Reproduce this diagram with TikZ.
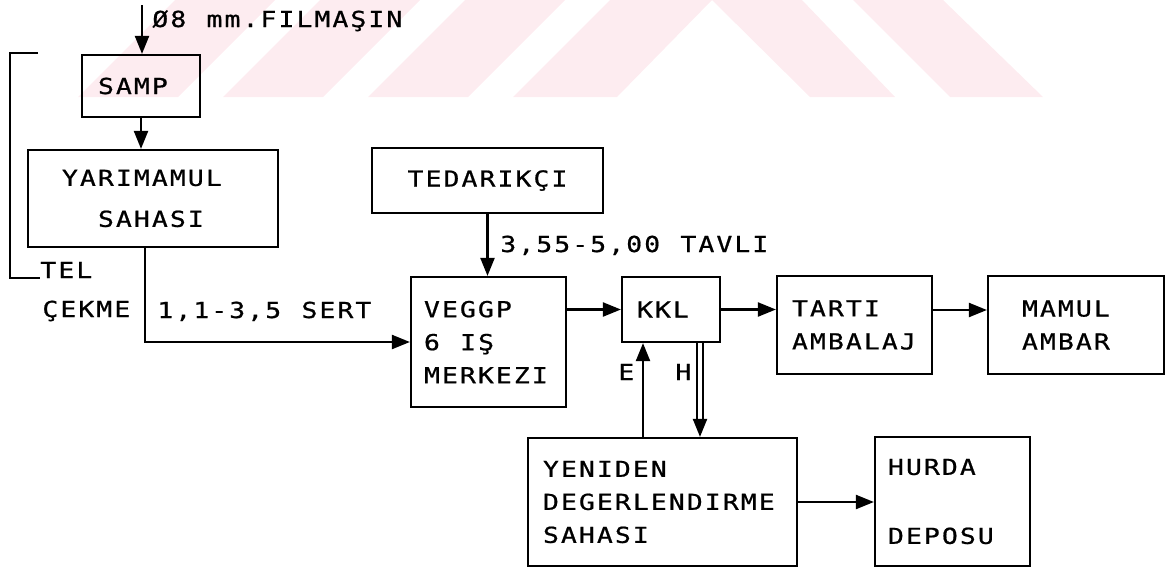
\documentclass[tikz,border=0pt]{standalone}
\usepackage{fontspec}
\newfontfamily\matbaa[FakeStretch=1.2, FakeBold=0.8, LetterSpace=9.5, WordSpace={1.13,0,0}]{DejaVu Sans Mono}
\usetikzlibrary{arrows.meta}
\definecolor{filigran}{RGB}{253,236,240}

\begin{document}
\begin{tikzpicture}[
    x=0.5pt,
    y=-0.5pt,
    >={Triangle[length=9pt,width=7pt]},
    every node/.style={font=\matbaa\fontsize{11}{16.5}\selectfont},
    kutu/.style={draw, line width=1.1pt, inner ysep=0pt, align=flush left},
    etiket/.style={anchor=base west, inner sep=0pt},
    hat/.style={line width=1.1pt},
    ok/.style={hat, ->}
]

\useasboundingbox (0,0) rectangle (1168,568);

% ============================================================
% Filigran (arka plan)
% ============================================================

% sol egik seritler
\fill[filigran] (78,97) -- (178,97) -- (275,0) -- (175,0) -- cycle;
\fill[filigran] (223,97) -- (323,97) -- (420,0) -- (320,0) -- cycle;
\fill[filigran] (368,97) -- (468,97) -- (565,0) -- (465,0) -- cycle;
\fill[filigran] (513,97) -- (617,97) -- (712,0) -- (610,0) -- cycle;

% sag egik seritler
\fill[filigran] (712,0) -- (802,0) -- (895,97) -- (810,97) -- cycle;
\fill[filigran] (853,0) -- (943,0) -- (1043,97) -- (950,97) -- cycle;

% ============================================================
% Kutular
% ============================================================

\node[kutu, minimum width=59pt, minimum height=31pt,
      text width=43pt, inner xsep=8pt]
    (samp) at (141,86) {SAMP};

\node[kutu, minimum width=125pt, minimum height=48.5pt,
      text width=91pt, inner xsep=17pt]
    (yari) at (153,198.5) {YARIMAMUL\\[4pt]\hspace*{18pt}SAHASI};

\node[kutu, align=center, minimum width=115.5pt, minimum height=32.5pt,
      text width=99.5pt, inner xsep=8pt]
    (ted) at (487.5,180.5) {TEDARIKÇI};

\node[kutu, minimum width=77.5pt, minimum height=65pt,
      text width=64.5pt, inner xsep=6.5pt]
    (veggp) at (488.5,342) {VEGGP\\6 IŞ\\MERKEZI};

\node[kutu, minimum width=49pt, minimum height=32.5pt,
      text width=34pt, inner xsep=7.5pt]
    (kkl) at (671,309.5) {KKL};

\node[kutu, minimum width=77.5pt, minimum height=49pt,
      text width=62.5pt, inner xsep=7.5pt]
    (tarti) at (854.5,325) {TARTI\\AMBALAJ};

\node[kutu, minimum width=88pt, minimum height=49pt,
      text width=54pt, inner xsep=17pt]
    (mamul) at (1076,325) {MAMUL\\AMBAR};

\node[kutu, minimum width=134.5pt, minimum height=64pt,
      text width=119.5pt, inner xsep=7.5pt]
    (yeni) at (662.5,502) {YENIDEN\\DEGERLENDIRME\\SAHASI};

\node[kutu, minimum width=77.5pt, minimum height=64.5pt,
      text width=64.5pt, inner xsep=6.5pt]
    (hurda) at (952.5,501.5) {HURDA\\[18pt]DEPOSU};

% ============================================================
% Etiketler
% ============================================================

\node[etiket] (filmasin) at (152,27) {Ø8 mm.FILMAŞIN};
\node[etiket] (tavli) at (500,252) {3,55-5,00 TAVLI};
\node[etiket] (sert) at (157,318) {1,1-3,5 SERT};
\node[etiket] (tel) at (40,278) {TEL};
\node[etiket] (cekme) at (42,317) {ÇEKME};
\node[etiket] (e) at (618,380) {E};
\node[etiket] (h) at (675,380) {H};

% ============================================================
% Bağlantılar
% ============================================================

% filmaşin girişi
\coordinate (giris) at (142,5);
\draw[ok] (giris) -- (giris |- samp.north);

% samp -> yarımamul
\draw[ok] (samp.south) -- (samp.south |- yari.north);

% tel çekme dönüşü
\coordinate (donus) at (38,53);
\draw[hat] (donus) -- ++(-28,0) |- (tel.base west);

% yarımamul -> veggp
\draw[ok] ([xshift=-4pt]yari.south) |- (veggp.west);

% tedarikçi -> veggp
\draw[ok] (ted.south) -- (ted.south |- veggp.north);

% veggp -> kkl -> tartı -> mamul
\draw[ok] (veggp.east |- kkl.west) -- (kkl.west);
\draw[ok] (kkl.east) -- (kkl.east -| tarti.west);
\draw[ok] ([yshift=7.5pt]tarti.east) -- ([yshift=7.5pt]tarti.east -| mamul.west);

% E: yeniden değerlendirme -> kkl
\coordinate (eUst) at ([xshift=-14pt]kkl.south);
\draw[ok] (eUst |- yeni.north) -- (eUst);

% H: kkl -> yeniden değerlendirme (çift çizgi)
\coordinate (hUst) at ([xshift=14.5pt]kkl.south);
\coordinate (hAlt) at (hUst |- yeni.north);
\draw[hat, double, double distance=2pt, shorten >=8pt] (hUst) -- (hAlt);
\draw[ok] ([yshift=9pt]hAlt) -- (hAlt);

% yeniden değerlendirme -> hurda
\draw[ok] (yeni.east) -- (yeni.east -| hurda.west);

\end{tikzpicture}
\end{document}
